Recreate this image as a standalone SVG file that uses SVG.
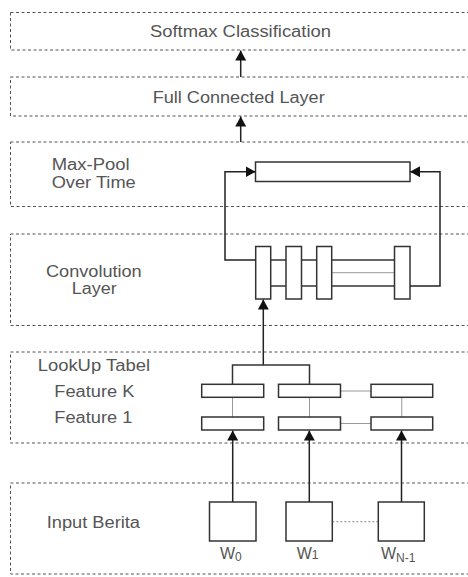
<svg xmlns="http://www.w3.org/2000/svg" width="468" height="577" viewBox="0 0 468 577">
<defs>
<style>
.lay{fill:none;stroke:#555;stroke-width:1;stroke-dasharray:3 2.5}
.t{font-family:"Liberation Sans",Arial,sans-serif;font-size:16px;fill:#555}
.box{fill:#fff;stroke:#333;stroke-width:1.5}
.ln{fill:none;stroke:#333;stroke-width:1.5}
.gl{fill:none;stroke:#999;stroke-width:1}
.ar{fill:none;stroke:#222;stroke-width:1.5;marker-end:url(#ah)}
</style>
<marker id="ah" markerUnits="userSpaceOnUse" markerWidth="12" markerHeight="12" refX="10" refY="5.5" orient="auto">
<path d="M0,0 L10,5.5 L0,11 z" fill="#111"/>
</marker>
</defs>
<rect width="468" height="577" fill="#fff"/>

<g id="softmax">
<rect class="lay" x="10.5" y="12.5" width="470" height="37.5"/>
<text class="t" x="150" y="37" textLength="181" lengthAdjust="spacingAndGlyphs">Softmax Classification</text>
</g>

<g id="fullconnected">
<rect class="lay" x="10.5" y="77" width="470" height="39"/>
<text class="t" x="152.7" y="102.5" textLength="172" lengthAdjust="spacingAndGlyphs">Full Connected Layer</text>
</g>

<g id="maxpool">
<rect class="lay" x="10.5" y="142" width="470" height="64.5"/>
<text class="t" x="51.7" y="170" textLength="78" lengthAdjust="spacingAndGlyphs">Max-Pool</text>
<text class="t" x="51.7" y="187.5" textLength="84" lengthAdjust="spacingAndGlyphs">Over Time</text>
<rect class="box" x="255.5" y="162" width="154.5" height="19.5"/>
</g>

<g id="convolution">
<rect class="lay" x="10.5" y="234" width="470" height="91.5"/>
<text class="t" x="46" y="276.5" textLength="95.7" lengthAdjust="spacingAndGlyphs">Convolution</text>
<text class="t" x="71.7" y="294" textLength="45" lengthAdjust="spacingAndGlyphs">Layer</text>
<line class="ln" x1="271" y1="260" x2="394" y2="260"/>
<line class="ln" x1="271" y1="286" x2="394" y2="286"/>
<line class="gl" x1="332" y1="272.7" x2="394" y2="272.7"/>
<rect class="box" x="255.7" y="246.5" width="15" height="52.5"/>
<rect class="box" x="286" y="246.5" width="15.5" height="52.5"/>
<rect class="box" x="316.7" y="246.5" width="15" height="52.5"/>
<rect class="box" x="394.5" y="246.5" width="15.5" height="52.5"/>
</g>

<g id="lookup">
<rect class="lay" x="10.5" y="352" width="470" height="91"/>
<text class="t" x="37.7" y="370.5" textLength="112.3" lengthAdjust="spacingAndGlyphs">LookUp Tabel</text>
<text class="t" x="54.3" y="396.5" textLength="80" lengthAdjust="spacingAndGlyphs">Feature K</text>
<text class="t" x="54.3" y="422.5" textLength="78" lengthAdjust="spacingAndGlyphs">Feature 1</text>
<line class="gl" x1="232.5" y1="397" x2="232.5" y2="417"/>
<line class="gl" x1="309.5" y1="397" x2="309.5" y2="417"/>
<line class="gl" x1="401.8" y1="384" x2="401.8" y2="417"/>
<line class="gl" x1="340.7" y1="391" x2="371" y2="391"/>
<line class="gl" x1="340.7" y1="423.5" x2="371" y2="423.5"/>
<rect class="box" x="201.7" y="384.3" width="62" height="13"/>
<rect class="box" x="278.5" y="384.3" width="62" height="13"/>
<rect class="box" x="371" y="384.3" width="61.7" height="13"/>
<rect class="box" x="201.7" y="417" width="62" height="13"/>
<rect class="box" x="278.5" y="417" width="62" height="13"/>
<rect class="box" x="371" y="417" width="61.7" height="13"/>
</g>

<g id="input">
<rect class="lay" x="10.5" y="483" width="470" height="91"/>
<text class="t" x="46.7" y="528" textLength="93.3" lengthAdjust="spacingAndGlyphs">Input Berita</text>
<line x1="332.3" y1="521.7" x2="378.3" y2="521.7" stroke="#888" stroke-width="1" stroke-dasharray="2 2"/>
<rect class="box" x="209.5" y="502" width="46.5" height="39"/>
<rect class="box" x="286" y="502" width="46.3" height="39"/>
<rect class="box" x="378.3" y="502" width="46" height="39"/>
<text class="t" x="220" y="559" font-size="17">W<tspan font-size="12" dy="2">0</tspan></text>
<text class="t" x="296.7" y="559" font-size="17">W<tspan font-size="12">1</tspan></text>
<text class="t" x="381" y="559" font-size="17">W<tspan font-size="12" dy="3">N-1</tspan></text>
</g>

<g id="connectors">
<line class="ar" x1="240.7" y1="77" x2="240.7" y2="50.5"/>
<line class="ar" x1="240.7" y1="142" x2="240.7" y2="116.5"/>
<polyline class="ar" points="255.7,260 225,260 225,171.7 255.5,171.7"/>
<polyline class="ar" points="410,286 440,286 440,171.7 410,171.7"/>
<line class="ar" x1="263.3" y1="365" x2="263.3" y2="299.5"/>
<polyline class="ln" points="232.5,384.3 232.5,365 309.5,365 309.5,384.3"/>
<line class="ar" x1="232.7" y1="502" x2="232.7" y2="430.5"/>
<line class="ar" x1="309.3" y1="502" x2="309.3" y2="430.5"/>
<line class="ar" x1="401.5" y1="502" x2="401.5" y2="430.5"/>
</g>
</svg>
